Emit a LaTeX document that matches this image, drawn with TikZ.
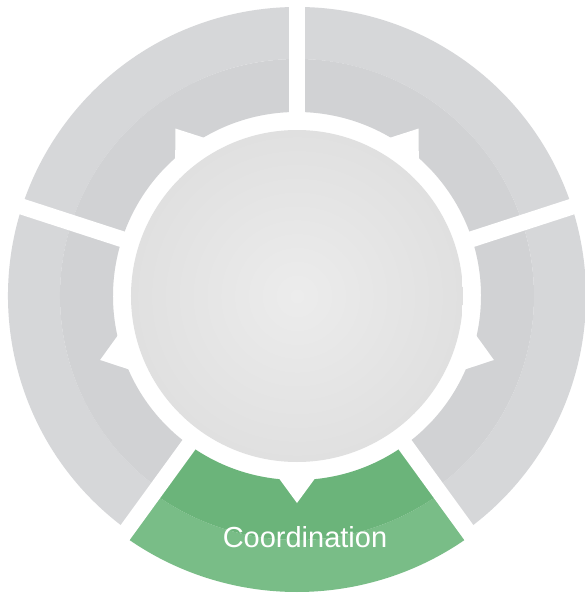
\documentclass[tikz,border=0pt]{standalone}
\usepackage{fontspec}
\setmainfont{Liberation Sans}
\usepackage{xcolor}
\usepackage{tikz}
\usetikzlibrary{arrows}

\definecolor{ringgray}{HTML}{D6D7D9}
\definecolor{ringgraydark}{HTML}{D1D2D4}
\definecolor{ringgreen}{HTML}{6BB47A}
\definecolor{ringgreenlight}{HTML}{79BD87}
\definecolor{hubgray}{HTML}{ECECEC}
\definecolor{hubedge}{HTML}{E0E0E0}

\begin{document}
\begin{tikzpicture}[x=1pt, y=1pt]
            \tikzset{
                outer_band/.style={fill=ringgray},
                inner_band/.style={fill=ringgraydark},
                gap/.style={draw=white, line width=16pt},
                notch/.style={fill=white},
                label_text/.style={text=white, font=\fontsize{29}{34}\selectfont, anchor=base}
            }
            \useasboundingbox (-297,-299) rectangle (288,296);
            \fill[white] (-297,-299) rectangle (288,296);

            % grey part of the ring
            \fill[outer_band] (-54:237) arc[start angle=-54, end angle=234, radius=237pt]
                -- (234:289) arc[start angle=234, end angle=-54, radius=289pt] -- cycle;
            \fill[inner_band] (-54:184) arc[start angle=-54, end angle=234, radius=184pt]
                -- (234:237) arc[start angle=234, end angle=-54, radius=237pt] -- cycle;

            % green part
            \fill[ringgreenlight] (234:244) arc[start angle=234, end angle=306, radius=244pt]
                -- (306:296) arc[start angle=306, end angle=234, radius=296pt] -- cycle;
            \fill[ringgreen] (234:184) arc[start angle=234, end angle=306, radius=184pt]
                -- (306:244) arc[start angle=306, end angle=234, radius=244pt] -- cycle;

            \foreach \a in {90, 18, -54, -126, 162}
                \draw[gap] (0,0) -- (\a:320);

            \foreach \a in {54, 126, 198, 270, 342}
                \fill[notch] (\a-7.8:176) -- (\a:207) -- (\a+7.8:176) -- cycle;

            \shade[inner color=hubgray, outer color=hubedge] (0,0) circle (166pt);

            \node[label_text] (label) at (8,-251) {Coordination};
        \end{tikzpicture}
\end{document}
